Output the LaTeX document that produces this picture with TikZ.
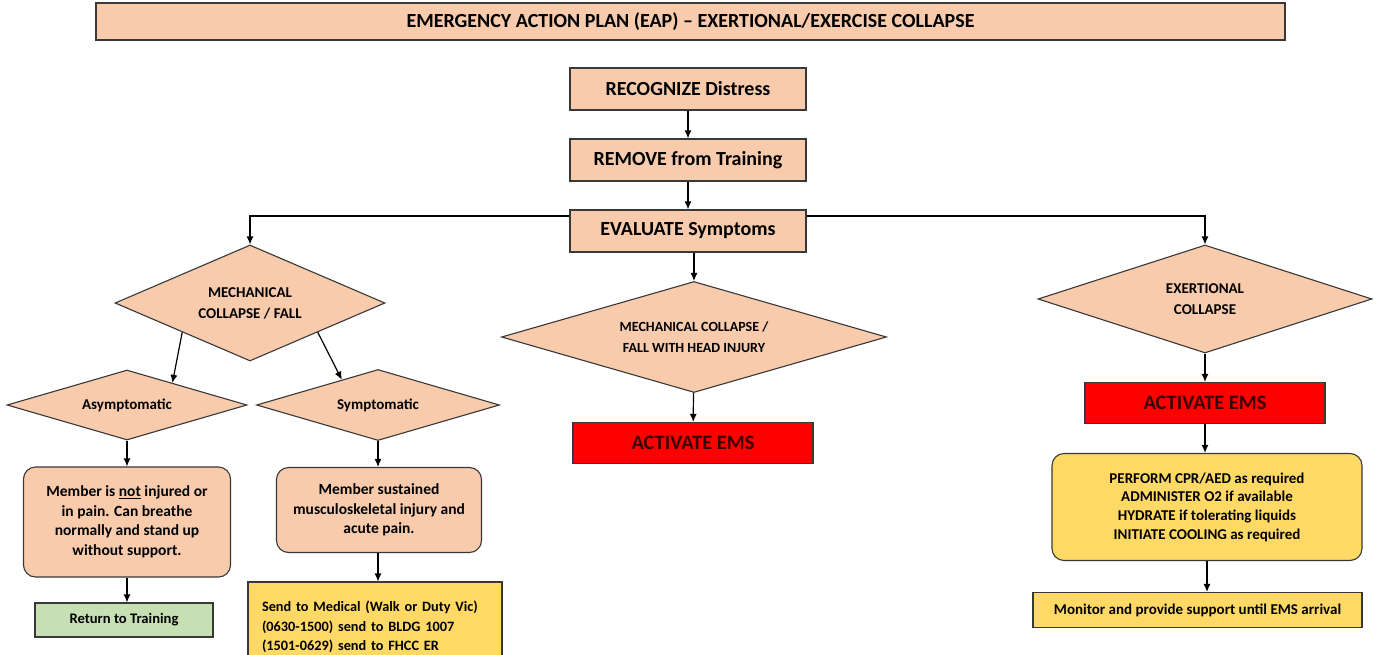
\documentclass[tikz,border=0pt]{standalone}
\usepackage{fontspec}
\setmainfont{Carlito}
\usetikzlibrary{shapes.geometric,arrows.meta}
\definecolor{peach}{HTML}{F8CBAD}
\definecolor{alarm}{HTML}{FF0000}
\definecolor{gold}{HTML}{FFD966}
\definecolor{mint}{HTML}{C6E0B4}
\definecolor{rim}{HTML}{383838}
\definecolor{emstext}{HTML}{3A0000}
\tikzset{
  frame/.style={draw=rim,line width=1.1pt,inner sep=0pt},
  actbox/.style={frame,fill=peach,minimum width=236pt,minimum height=42pt,
    font=\fontsize{20}{23}\selectfont\bfseries},
  choice/.style={frame,fill=peach,diamond,align=center,
    font=\fontsize{15}{21}\selectfont\bfseries},
  emsbox/.style={frame,fill=alarm,minimum width=240pt,minimum height=41pt,
    font=\fontsize{20.5}{23}\selectfont\bfseries,text=emstext},
  notebox/.style={frame,rounded corners=12pt,align=center,
    font=\fontsize{15.5}{19.5}\selectfont\bfseries},
  arr/.style={-{Latex[length=8pt,width=7pt]},line width=1.2pt},
}
\begin{document}
\begin{tikzpicture}[x=1pt,y=-1pt]
\clip (0,0) rectangle (1379,654);
\fill[white] (0,0) rectangle (1379,654);
% title bar
\node[frame,fill=peach,minimum width=1189pt,minimum height=37pt,
  font=\fontsize{20}{23}\selectfont\bfseries] (title) at (690.5,21.5)
  {EMERGENCY ACTION PLAN (EAP) -- EXERTIONAL/EXERCISE COLLAPSE};
% main steps
\node[actbox] (recog) at (688,89) {RECOGNIZE Distress};
\node[actbox] (remove) at (688,160) {REMOVE from Training};
\node[actbox] (evaluate) at (688,231) {EVALUATE Symptoms};
% decisions
\node[choice,aspect=2.33,minimum width=270pt,minimum height=116pt] (mech) at (250,303)
  {MECHANICAL\\COLLAPSE / FALL};
\node[choice,aspect=3.47,minimum width=385pt,minimum height=111pt,
  font=\fontsize{14}{21}\selectfont\bfseries] (head) at (694,337)
  {MECHANICAL COLLAPSE /\\FALL WITH HEAD INJURY};
\node[choice,aspect=3.1,minimum width=334pt,minimum height=108pt] (exert) at (1205,299)
  {EXERTIONAL\\COLLAPSE};
\node[choice,aspect=3.43,minimum width=240pt,minimum height=70pt] (asym) at (127,405)
  {Asymptomatic};
\node[choice,aspect=3.42,minimum width=243pt,minimum height=71pt] (sym) at (378,405)
  {Symptomatic};
% left branch
\node[notebox,fill=peach,minimum width=207pt,minimum height=110pt] (okmem) at (127,522)
  {Member is \underline{not} injured or\\in pain. Can breathe\\normally and stand up\\without support.};
\node[frame,fill=mint,minimum width=178pt,minimum height=34pt,
  font=\fontsize{14.6}{18}\selectfont\bfseries] (back) at (124,620) {Return to Training};
\node[notebox,fill=peach,minimum width=205pt,minimum height=85pt] (hurt) at (379,510)
  {Member sustained\\musculoskeletal injury and\\acute pain.};
\node[frame,fill=gold,minimum width=254pt,minimum height=90pt,align=left,
  text width=226pt,font=\fontsize{14.3}{19.5}\selectfont\bfseries] (medical) at (375,627)
  {Send to Medical (Walk or Duty Vic)\\(0630-1500) send to BLDG 1007\\(1501-0629) send to FHCC ER};
% middle and right branch
\node[emsbox] (ems) at (693,443) {ACTIVATE EMS};
\node[emsbox] (ems2) at (1205,403) {ACTIVATE EMS};
\node[notebox,fill=gold,minimum width=310pt,minimum height=107pt,
  font=\fontsize{15}{18.7}\selectfont\bfseries] (care) at (1207,507)
  {PERFORM CPR/AED as required\\ADMINISTER O2 if available\\HYDRATE if tolerating liquids\\INITIATE COOLING as required};
\node[frame,fill=gold,minimum width=329pt,minimum height=35pt,
  font=\fontsize{15}{18}\selectfont\bfseries] (watch) at (1197.5,610)
  {Monitor and provide support until EMS arrival};
% connectors
\draw[arr] (recog) -- (remove);
\draw[arr] (remove) -- (evaluate);
\draw[arr] ([yshift=15pt]evaluate.west) -| (mech.north);
\draw[arr] ([yshift=15pt]evaluate.east) -| (exert.north);
\draw[arr] (evaluate.south -| head.north) -- (head.north);
\draw[arr] (mech.south west) -- (asym.26);
\draw[arr] (mech.south east) -- (sym.145);
\draw[arr] (asym) -- (okmem);
\draw[arr] (okmem.south) -- (okmem.south |- back.north);
\draw[arr] (sym.south) -- (sym.south |- hurt.north);
\draw[arr] (sym.south |- hurt.south) -- (sym.south |- medical.north);
\draw[arr] (head) -- (ems);
\draw[arr] (exert) -- (ems2);
\draw[arr] (ems2.south) -- (ems2.south |- care.north);
\draw[arr] (care.south) -- (care.south |- watch.north);
\end{tikzpicture}
\end{document}
